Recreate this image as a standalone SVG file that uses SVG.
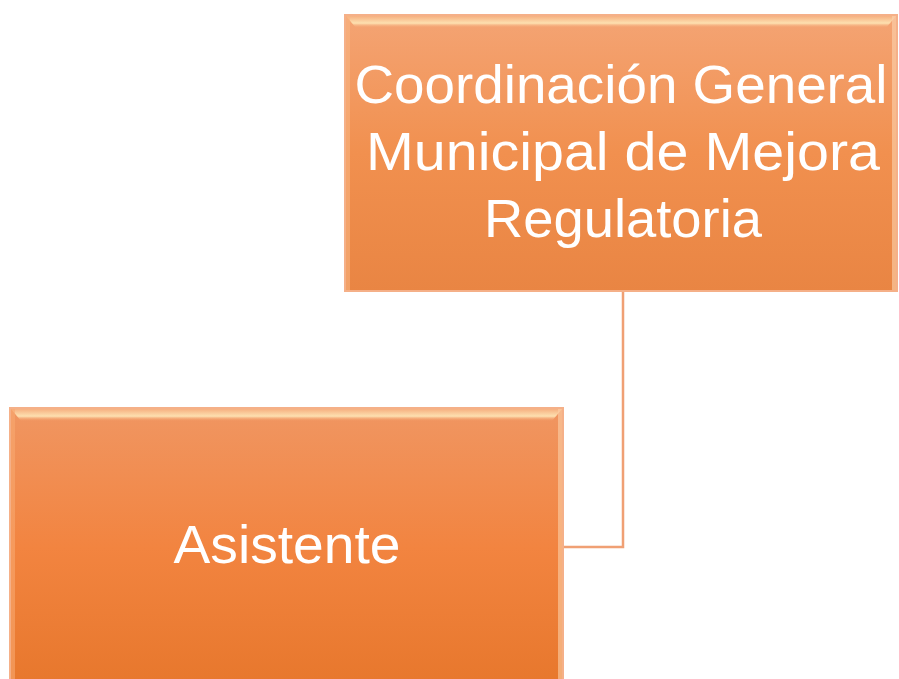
<svg xmlns="http://www.w3.org/2000/svg" width="899" height="679" viewBox="0 0 899 679">
  <defs>
    <linearGradient id="g1" x1="0" y1="0" x2="0" y2="1">
      <stop offset="0" stop-color="#f4a474"/>
      <stop offset="0.5" stop-color="#f1904f"/>
      <stop offset="1" stop-color="#e98543"/>
    </linearGradient>
    <linearGradient id="g2" x1="0" y1="0" x2="0" y2="1">
      <stop offset="0" stop-color="#f09662"/>
      <stop offset="0.5" stop-color="#f28440"/>
      <stop offset="1" stop-color="#e7772c"/>
    </linearGradient>
    <linearGradient id="bev" x1="0" y1="0" x2="0" y2="1">
      <stop offset="0" stop-color="#f6b080"/>
      <stop offset="0.6" stop-color="#fde0b0"/>
      <stop offset="1" stop-color="#f4a070" stop-opacity="0"/>
    </linearGradient>
    <style>
      .box { stroke: #f5b088; stroke-width: 2; }
      .lbl { font-family: "Liberation Sans", Arial, sans-serif; font-size: 53px; fill: #ffffff; text-anchor: middle; }
      .conn { fill: none; stroke: #f0a074; stroke-width: 2.5; }
    </style>
  </defs>
  <rect width="899" height="679" fill="#ffffff"/>
  <g id="connectors">
    <polyline class="conn" points="623,291 623,547 563,547"/>
  </g>
  <g id="node-coordinacion">
    <rect class="box" x="345" y="15" width="552" height="276" fill="url(#g1)"/>
    <polygon points="346,16 896,16 886,28 356,28" fill="url(#bev)"/>
    <rect x="346" y="16" width="4" height="274" fill="#f8b480" opacity="0.6"/>
    <rect x="892" y="16" width="4" height="274" fill="#fbd4b0" opacity="0.6"/>
    <text class="lbl" x="621" y="103" textLength="533" lengthAdjust="spacingAndGlyphs">Coordinación General</text>
    <text class="lbl" x="623" y="170" textLength="514" lengthAdjust="spacingAndGlyphs">Municipal de Mejora</text>
    <text class="lbl" x="623" y="237" textLength="278" lengthAdjust="spacingAndGlyphs">Regulatoria</text>
  </g>
  <g id="node-asistente">
    <rect class="box" x="10" y="408" width="553" height="280" fill="url(#g2)"/>
    <polygon points="11,409 562,409 552,421 21,421" fill="url(#bev)"/>
    <rect x="11" y="409" width="4" height="270" fill="#f8a870" opacity="0.6"/>
    <rect x="558" y="409" width="4" height="270" fill="#fbd0a8" opacity="0.6"/>
    <text class="lbl" x="287" y="563" textLength="227" lengthAdjust="spacingAndGlyphs">Asistente</text>
  </g>
</svg>
